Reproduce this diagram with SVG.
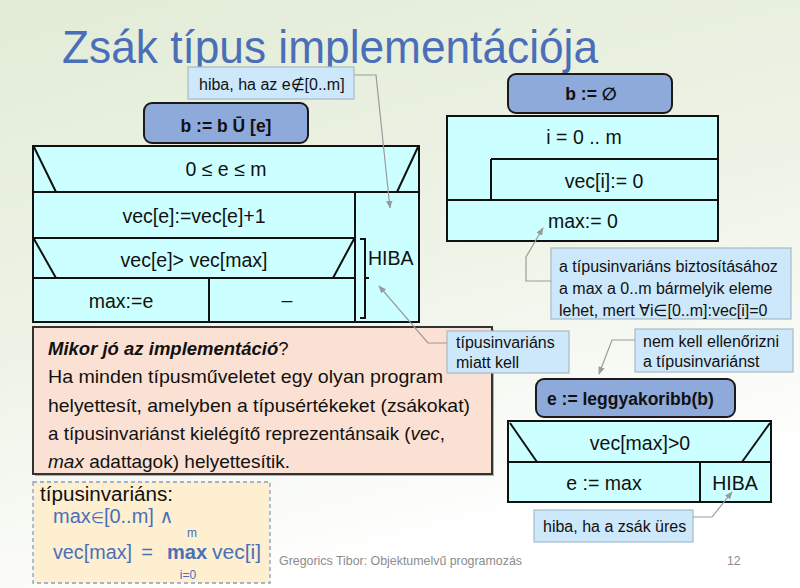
<svg xmlns="http://www.w3.org/2000/svg" width="800" height="588" viewBox="0 0 800 588">
  <defs>
    <linearGradient id="bg" x1="0" y1="0" x2="0.35" y2="1">
      <stop offset="0" stop-color="#e2ecd6"/>
      <stop offset="0.55" stop-color="#eef3e7"/>
      <stop offset="1" stop-color="#ffffff"/>
    </linearGradient>
    <marker id="arr" viewBox="0 0 10 10" refX="9" refY="5" markerWidth="8" markerHeight="8" markerUnits="userSpaceOnUse" orient="auto">
      <path d="M0,1 L10,5 L0,9 Z" fill="#9a9a9a"/>
    </marker>
    <style>
      text { font-family: "Liberation Sans", Arial, "DejaVu Sans", sans-serif; fill: #111; }
      .st { fill: #ccffff; stroke: #111; stroke-width: 2; }
      .ln { stroke: #111; stroke-width: 2; fill: none; }
      .hd { fill: #8eaadb; stroke: #1a1a1a; stroke-width: 2; }
      .hdt { font-size: 17.5px; font-weight: bold; }
      .co { fill: #cde8fa; stroke: #a8b9c6; stroke-width: 1.2; }
      .cot { font-size: 16px; }
      .t { font-size: 19.5px; }
      .nt { font-size: 18.5px; }
      .mid { text-anchor: middle; }
      .conn { stroke: #9a9a9a; stroke-width: 1.2; fill: none; marker-end: url(#arr); }
      .blue { fill: #4a6fb8; }
      .foot { font-size: 12.2px; fill: #8c8c8c; }
    </style>
  </defs>

  <!-- slide background -->
  <rect x="0" y="0" width="800" height="588" fill="url(#bg)"/>

  <!-- title -->
  <text x="62" y="63" font-size="47" class="blue" textLength="536" lengthAdjust="spacingAndGlyphs">Zsák típus implementációja</text>

  <!-- operation: add element -->
  <g id="add-header">
    <rect class="hd" x="144" y="103" width="164" height="40" rx="8"/>
    <text class="hdt mid" x="226" y="132">b := b Ū [e]</text>
  </g>
  <g id="add-struct">
    <rect class="st" x="33" y="146" width="386" height="176"/>
    <path class="ln" d="M33,192 H419 M355,192 V322 M33,238 H355 M33,278 H355 M209,278 V322"/>
    <path class="ln" d="M34,147 L56,192 M418,147 L397,192 M34,239 L56,278 M354,239 L333,278"/>
    <path class="ln" d="M360,239 H365 V318 H360 M365,278 H369"/>
    <text class="t mid" x="226" y="176">0 ≤ e ≤ m</text>
    <text class="t mid" x="194" y="223">vec[e]:=vec[e]+1</text>
    <text class="t mid" x="194" y="267">vec[e]&gt; vec[max]</text>
    <text class="t mid" x="121" y="308">max:=e</text>
    <text class="t mid" x="287" y="307">–</text>
    <text class="t" x="368" y="265">HIBA</text>
  </g>

  <!-- operation: empty bag -->
  <g id="empty-header">
    <rect class="hd" x="508" y="74" width="164" height="39" rx="8"/>
    <text class="hdt mid" x="591" y="100">b := ∅</text>
  </g>
  <g id="empty-struct">
    <rect class="st" x="447" y="116" width="271" height="125"/>
    <path class="ln" d="M491,159 H718 M491,159 V200 M447,200 H718"/>
    <text class="t mid" x="584" y="144">i = 0 .. m</text>
    <text class="t mid" x="604" y="188">vec[i]:= 0</text>
    <text class="t mid" x="583" y="228">max:= 0</text>
  </g>

  <!-- operation: most frequent element -->
  <g id="freq-header">
    <rect class="hd" x="536" y="379" width="199" height="38" rx="8"/>
    <text class="hdt" x="547" y="405">e := leggyakoribb(b)</text>
  </g>
  <g id="freq-struct">
    <rect class="st" x="508" y="421" width="263" height="81"/>
    <path class="ln" d="M508,462 H771 M700,462 V502 M510,423 L537,462 M770,423 L742,462"/>
    <text class="t mid" x="640" y="450">vec[max]&gt;0</text>
    <text class="t mid" x="604" y="490">e := max</text>
    <text class="t mid" x="735" y="490">HIBA</text>
  </g>

  <!-- explanation box -->
  <g id="note-when">
    <rect x="35" y="329" width="459" height="147" fill="#6a6a6a" opacity="0.5"/>
    <rect x="33" y="327" width="459" height="147" fill="#fbe1d3" stroke="#333" stroke-width="2"/>
    <text class="nt" x="48" y="355"><tspan font-weight="bold" font-style="italic">Mikor jó az implementáció</tspan>?</text>
    <text class="nt" x="48" y="383" textLength="395" lengthAdjust="spacingAndGlyphs">Ha minden típusműveletet egy olyan program</text>
    <text class="nt" x="48" y="412" textLength="422" lengthAdjust="spacingAndGlyphs">helyettesít, amelyben a típusértékeket (zsákokat)</text>
    <text class="nt" x="48" y="440" textLength="397" lengthAdjust="spacingAndGlyphs">a típusinvariánst kielégítő reprezentánsaik (<tspan font-style="italic">vec</tspan>,</text>
    <text class="nt" x="48" y="468" textLength="242" lengthAdjust="spacingAndGlyphs"><tspan font-style="italic">max</tspan> adattagok) helyettesítik.</text>
  </g>

  <!-- type invariant -->
  <g id="invariant">
    <rect x="33" y="482" width="237" height="101" fill="#fdefd0" stroke="#8a9cc0" stroke-width="1.3" stroke-dasharray="4 3"/>
    <text x="40" y="501" font-size="20" textLength="133" lengthAdjust="spacingAndGlyphs">típusinvariáns:</text>
    <text class="blue" x="53" y="523" font-size="20">max<tspan font-size="15">∈</tspan>[0..m] <tspan font-size="19">∧</tspan></text>
    <text class="blue" x="192" y="537" font-size="12" text-anchor="middle">m</text>
    <text class="blue" x="53" y="559" font-size="20" textLength="79" lengthAdjust="spacingAndGlyphs">vec[max]</text>
    <text class="blue" x="147" y="559" font-size="20" text-anchor="middle">=</text>
    <text class="blue" x="167" y="559" font-size="20" font-weight="bold" textLength="40" lengthAdjust="spacingAndGlyphs">max</text>
    <text class="blue" x="212" y="559" font-size="20" textLength="49" lengthAdjust="spacingAndGlyphs">vec[i]</text>
    <text class="blue" x="188" y="579" font-size="12" text-anchor="middle">i=0</text>
  </g>

  <!-- callouts -->
  <g id="callout-range">
    <rect class="co" x="188" y="67" width="166" height="32"/>
    <text class="cot" x="199" y="90">hiba, ha az e∉[0..m]</text>
  </g>
  <g id="callout-init">
    <rect class="co" x="551" y="248" width="240" height="71"/>
    <text class="cot" x="559" y="272">a típusinvariáns biztosításához</text>
    <text class="cot" x="559" y="294">a max a 0..m bármelyik eleme</text>
    <text class="cot" x="559" y="316">lehet, mert ∀i∈[0..m]:vec[i]=0</text>
  </g>
  <g id="callout-needed">
    <rect class="co" x="447" y="331" width="122" height="42"/>
    <text class="cot" x="456" y="348">típusinvariáns</text>
    <text class="cot" x="456" y="368">miatt kell</text>
  </g>
  <g id="callout-nocheck">
    <rect class="co" x="635" y="329" width="158" height="43"/>
    <text class="cot" x="643" y="347">nem kell ellenőrizni</text>
    <text class="cot" x="643" y="367">a típusinvariánst</text>
  </g>
  <g id="callout-empty">
    <rect class="co" x="534" y="510" width="159" height="32"/>
    <text class="cot" x="543" y="532">hiba, ha a zsák üres</text>
  </g>

  <!-- connectors -->
  <g id="connectors">
    <path class="conn" d="M354,75 H376 L390,208"/>
    <path class="conn" d="M447,343 H428 L379,286"/>
    <path class="conn" d="M551,281 H526 V257 L543,228"/>
    <path class="conn" d="M635,340 H612 L599,374"/>
    <path class="conn" d="M693,517 H712 L732,492"/>
  </g>

  <!-- footer -->
  <text class="foot" x="279" y="565" textLength="243" lengthAdjust="spacingAndGlyphs">Gregorics Tibor: Objektumelvű programozás</text>
  <text class="foot" x="727" y="565">12</text>
</svg>
